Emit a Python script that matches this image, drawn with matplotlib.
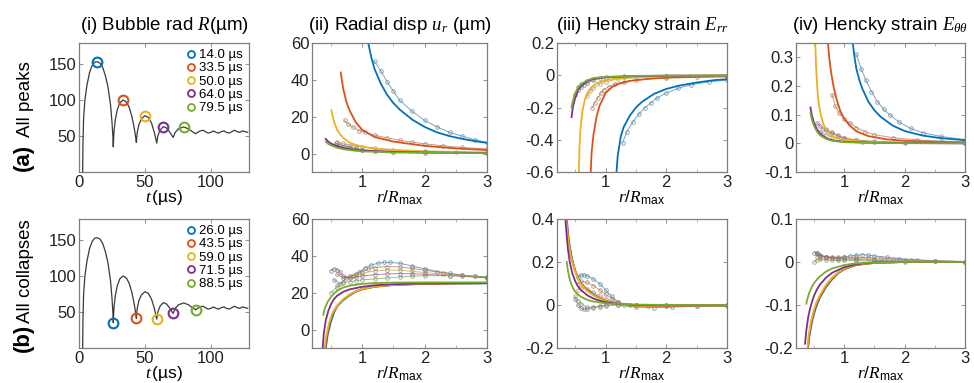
import matplotlib
matplotlib.use('Agg')
import matplotlib.pyplot as plt
from matplotlib.colors import to_rgb
from matplotlib.lines import Line2D

plt.rcParams['font.family'] = ['Liberation Sans', 'DejaVu Sans']
plt.rcParams['mathtext.fontset'] = 'custom'
plt.rcParams['mathtext.it'] = 'Liberation Serif:italic'
plt.rcParams['mathtext.rm'] = 'Liberation Sans'
plt.rcParams['mathtext.bf'] = 'Liberation Sans:bold'
plt.rcParams['axes.unicode_minus'] = False

colors = ['#0072BD', '#D95319', '#EDB120', '#7E2F8E', '#77AC30']

# ---------------- Bubble radius R(t) ----------------
t_us = [2.8, 3.0, 3.5, 4.5, 6, 8, 10, 12, 14, 16, 18, 20, 22, 24, 25, 25.7, 26,
        26.5, 27.5, 29, 31, 33.5, 36, 38, 40, 42, 43, 43.5,
        44.2, 45.5, 47.5, 50, 52.5, 55, 57, 58.3, 59,
        59.8, 61.5, 64, 66.5, 69, 70.7, 71.5,
        73, 75.5, 79.5, 83, 86, 88.5,
        90, 92, 94, 96, 98, 100, 102, 104, 106, 108, 110, 112, 114, 116, 118,
        120, 122, 124, 126, 128]
R_um = [0, 40, 75, 100, 120, 138, 148, 152.5, 153, 151, 145, 134, 118, 92, 70, 50, 35,
        55, 72, 86, 96, 100, 97, 90, 78, 60, 48, 41,
        55, 66, 74, 78, 76, 68, 56, 46, 40,
        50, 58, 63, 61, 55, 50, 48,
        55, 60, 62.5, 60, 56, 53,
        55, 57, 58, 56, 54, 55, 57, 55, 54, 56, 57, 55, 54, 56, 58,
        56, 55, 57, 56, 55]
peak_t = [14.0, 33.5, 50.0, 64.0, 79.5]
peak_R = [153, 100, 78, 63, 62.5]
peak_labels = ['14.0 µs', '33.5 µs', '50.0 µs', '64.0 µs', '79.5 µs']
collapse_t = [26.0, 43.5, 59.0, 71.5, 88.5]
collapse_R = [35, 41, 40, 48, 53]
collapse_labels = ['26.0 µs', '43.5 µs', '59.0 µs', '71.5 µs', '88.5 µs']

# ---------------- (a) peaks: radial displacement ----------------
ur_a_mx = [[1.1, 1.15, 1.2, 1.3, 1.4, 1.5, 1.6, 1.8, 2.0, 2.2, 2.4, 2.6, 2.8, 3.0],
           [0.66, 0.7, 0.75, 0.8, 0.9, 1.0, 1.2, 1.5, 2.0, 2.5, 3.0],
           [0.51, 0.55, 0.6, 0.65, 0.7, 0.8, 0.9, 1.0, 1.2, 1.5, 2.0, 2.5, 3.0],
           [0.42, 0.45, 0.5, 0.6, 0.7, 0.8, 1.0, 1.5, 2.0, 3.0],
           [0.42, 0.45, 0.5, 0.6, 0.7, 0.8, 1.0, 1.5, 2.0, 3.0]]
ur_a_my = [[60, 52, 46, 38, 32, 27.5, 24, 18.5, 14.5, 11.5, 9.5, 8, 6.8, 5.8],
           [44, 35, 28, 23.5, 17, 13, 9, 6.5, 4.2, 2.8, 1.9],
           [23.5, 17.5, 13, 10.5, 8.5, 6, 4.7, 3.8, 2.7, 1.8, 1.0, 0.7, 0.5],
           [8.0, 6.8, 5.5, 4.0, 3.0, 2.4, 1.6, 0.9, 0.6, 0.3],
           [6.5, 5.5, 4.5, 3.2, 2.4, 1.9, 1.2, 0.6, 0.4, 0.2]]
ur_a_dx = [[1.2, 1.3, 1.4, 1.5, 1.6, 1.8, 2.0, 2.2, 2.4, 2.6, 2.8, 3.0],
           [0.72, 0.78, 0.85, 0.95, 1.05, 1.2, 1.4, 1.6, 1.8, 2.0, 2.3, 2.6, 3.0],
           [0.6, 0.7, 0.8, 0.9, 1.0, 1.2, 1.5, 2.0, 2.5, 3.0],
           [0.58, 0.65, 0.72, 0.8, 0.9, 1.0, 1.2, 1.5, 2.0, 3.0],
           [0.6, 0.7, 0.8, 0.9, 1.0, 1.2, 1.5, 2.0, 3.0]]
ur_a_dy = [[50, 45, 39, 34, 29, 23, 18, 14.5, 11.5, 9.5, 7.5, 6],
           [18, 16, 14.5, 12.5, 11.5, 10, 8.5, 7.2, 6.2, 5.3, 4.2, 3.3, 2.5],
           [6.5, 5.5, 4.8, 4.2, 3.6, 2.9, 2.2, 1.5, 1.1, 0.8],
           [5.5, 4.8, 4.2, 3.5, 2.8, 2.2, 1.6, 1.1, 0.7, 0.4],
           [4.5, 3.8, 3.0, 2.4, 1.9, 1.3, 0.9, 0.5, 0.3]]

# ---------------- (a) peaks: E_rr ----------------
err_a_mx = [[1.18, 1.2, 1.25, 1.3, 1.4, 1.5, 1.6, 1.8, 2.0, 2.2, 2.5, 2.8, 3.0],
            [0.755, 0.77, 0.8, 0.85, 0.9, 1.0, 1.1, 1.2, 1.4, 1.7, 2.0, 2.5, 3.0],
            [0.56, 0.57, 0.59, 0.62, 0.66, 0.7, 0.75, 0.85, 1.0, 1.3, 1.7, 2.2, 3.0],
            [0.44, 0.46, 0.5, 0.55, 0.6, 0.7, 0.8, 1.0, 1.5, 2.0, 3.0],
            [0.44, 0.46, 0.5, 0.55, 0.6, 0.7, 0.8, 1.0, 1.5, 2.0, 3.0]]
err_a_my = [[-0.6, -0.5, -0.38, -0.32, -0.25, -0.2, -0.165, -0.115, -0.085, -0.065, -0.045, -0.03, -0.025],
            [-0.6, -0.48, -0.37, -0.26, -0.19, -0.11, -0.075, -0.055, -0.035, -0.022, -0.015, -0.01, -0.007],
            [-0.6, -0.45, -0.32, -0.22, -0.15, -0.11, -0.08, -0.05, -0.03, -0.015, -0.008, -0.005, -0.003],
            [-0.26, -0.2, -0.14, -0.09, -0.065, -0.035, -0.022, -0.012, -0.005, -0.003, -0.001],
            [-0.2, -0.16, -0.11, -0.075, -0.055, -0.03, -0.018, -0.01, -0.004, -0.002, -0.001]]
err_a_dx = [[1.28, 1.35, 1.45, 1.55, 1.65, 1.75, 1.85, 2.0, 2.2, 2.4, 2.7, 3.0],
            [0.78, 0.82, 0.87, 0.92, 0.97, 1.05, 1.15, 1.3, 1.5, 2.0, 2.5, 3.0],
            [0.7, 0.75, 0.8, 0.9, 1.0, 1.2, 1.5, 2.0, 3.0],
            [0.5, 0.55, 0.6, 0.65, 0.7, 0.8, 0.9, 1.0, 1.3, 2.0, 3.0],
            [0.55, 0.6, 0.7, 0.8, 1.0, 1.3, 2.0, 3.0]]
err_a_dy = [[-0.42, -0.35, -0.29, -0.24, -0.2, -0.17, -0.14, -0.11, -0.08, -0.06, -0.04, -0.03],
            [-0.2, -0.17, -0.14, -0.11, -0.09, -0.07, -0.055, -0.04, -0.03, -0.015, -0.01, -0.008],
            [-0.13, -0.1, -0.08, -0.055, -0.04, -0.025, -0.015, -0.008, -0.004],
            [-0.12, -0.09, -0.075, -0.06, -0.045, -0.03, -0.02, -0.015, -0.01, -0.005, -0.003],
            [-0.07, -0.055, -0.035, -0.025, -0.013, -0.007, -0.003, -0.002]]

# ---------------- (a) peaks: E_thetatheta ----------------
ett_a_mx = [[1.14, 1.17, 1.2, 1.25, 1.3, 1.4, 1.5, 1.6, 1.8, 2.0, 2.3, 2.6, 3.0],
            [0.73, 0.75, 0.78, 0.82, 0.87, 0.93, 1.0, 1.1, 1.2, 1.4, 1.7, 2.0, 2.5, 3.0],
            [0.52, 0.53, 0.55, 0.57, 0.6, 0.65, 0.7, 0.8, 0.9, 1.0, 1.3, 1.7, 2.2, 3.0],
            [0.44, 0.46, 0.5, 0.55, 0.6, 0.7, 0.8, 1.0, 1.5, 2.0, 3.0],
            [0.44, 0.46, 0.5, 0.55, 0.6, 0.7, 0.8, 1.0, 1.5, 2.0, 3.0]]
ett_a_my = [[0.35, 0.3, 0.26, 0.22, 0.19, 0.145, 0.115, 0.093, 0.062, 0.043, 0.027, 0.018, 0.011],
            [0.35, 0.3, 0.25, 0.2, 0.155, 0.115, 0.085, 0.06, 0.042, 0.025, 0.014, 0.009, 0.005, 0.003],
            [0.35, 0.28, 0.2, 0.15, 0.11, 0.07, 0.045, 0.025, 0.016, 0.012, 0.006, 0.003, 0.002, 0.001],
            [0.125, 0.1, 0.07, 0.048, 0.034, 0.018, 0.011, 0.005, 0.002, 0.001, 0.0],
            [0.105, 0.085, 0.06, 0.04, 0.028, 0.015, 0.009, 0.004, 0.0015, 0.0005, 0.0]]
ett_a_dx = [[1.2, 1.28, 1.36, 1.45, 1.55, 1.65, 1.75, 1.9, 2.1, 2.3, 2.6, 3.0],
            [0.8, 0.85, 0.92, 1.0, 1.1, 1.2, 1.35, 1.5, 1.8, 2.2, 2.6, 3.0],
            [0.7, 0.8, 0.9, 1.0, 1.2, 1.5, 2.0, 3.0],
            [0.55, 0.6, 0.65, 0.7, 0.8, 0.9, 1.0, 1.2, 1.5, 2.0, 3.0],
            [0.6, 0.7, 0.8, 1.0, 1.3, 2.0, 3.0]]
ett_a_dy = [[0.31, 0.26, 0.22, 0.18, 0.145, 0.12, 0.1, 0.075, 0.052, 0.037, 0.024, 0.013],
            [0.17, 0.13, 0.105, 0.085, 0.07, 0.055, 0.04, 0.03, 0.02, 0.012, 0.008, 0.005],
            [0.05, 0.038, 0.028, 0.02, 0.012, 0.007, 0.003, 0.001],
            [0.07, 0.06, 0.05, 0.045, 0.035, 0.025, 0.018, 0.01, 0.006, 0.003, 0.001],
            [0.04, 0.03, 0.022, 0.012, 0.006, 0.002, 0.001]]

# ---------------- (b) collapses: radial displacement ----------------
ur_b_mx = [[0.42, 0.45, 0.5, 0.55, 0.6, 0.7, 0.8, 0.9, 1.0, 1.2, 1.5, 2.0, 2.5, 3.0],
           [0.41, 0.44, 0.48, 0.53, 0.6, 0.7, 0.8, 0.9, 1.0, 1.2, 1.5, 2.0, 2.5, 3.0],
           [0.4, 0.43, 0.47, 0.52, 0.6, 0.7, 0.8, 0.9, 1.0, 1.2, 1.5, 2.0, 2.5, 3.0],
           [0.37, 0.39, 0.42, 0.46, 0.5, 0.55, 0.6, 0.7, 0.8, 1.0, 1.2, 1.5, 2.0, 3.0],
           [0.38, 0.4, 0.45, 0.5, 0.55, 0.6, 0.7, 0.8, 1.0, 1.2, 1.5, 2.0, 3.0]]
ur_b_my = [[-10, -3, 4, 9, 12.5, 16, 18.5, 20.5, 21.8, 23.2, 24.2, 24.8, 25, 25.1],
           [-10, -3, 3.5, 8.8, 12.8, 16.3, 18.8, 20.7, 22, 23.3, 24.3, 24.9, 25.1, 25.2],
           [-10, -3, 3, 8.5, 13, 16.5, 19, 20.8, 22, 23.3, 24.3, 24.9, 25.1, 25.2],
           [-10, -2, 5, 10, 13.5, 16.5, 18.3, 20.5, 21.8, 23.2, 24, 24.6, 25, 25.2],
           [8, 11, 15, 17.5, 19.5, 21, 22.8, 23.8, 24.8, 25.2, 25.5, 25.6, 25.6]]
ur_b_dx = [[0.55, 0.65, 0.75, 0.85, 0.95, 1.05, 1.15, 1.25, 1.35, 1.45, 1.6, 1.8, 2.0, 2.2, 2.4, 2.6, 2.8, 3.0],
           [0.6, 0.7, 0.8, 0.9, 1.0, 1.1, 1.2, 1.4, 1.6, 1.8, 2.0, 2.3, 2.6, 3.0],
           [0.6, 0.7, 0.8, 0.9, 1.0, 1.2, 1.4, 1.6, 1.8, 2.0, 2.3, 2.6, 3.0],
           [0.5, 0.55, 0.6, 0.65, 0.7, 0.8, 0.9, 1.0, 1.2, 1.4, 1.6, 1.8, 2.0, 2.4, 3.0],
           [0.5, 0.6, 0.7, 0.8, 0.9, 1.0, 1.2, 1.4, 1.6, 1.8, 2.0, 2.4, 2.8, 3.0]]
ur_b_dy = [[27, 25, 28, 29, 31, 33.5, 35, 36, 36.5, 36.5, 36, 34.5, 33, 31.5, 30.5, 29.5, 28.8, 28],
           [30, 28, 29, 30, 31.5, 32.8, 33.6, 34.2, 34, 33.2, 32.2, 30.8, 29.5, 28.3],
           [24, 26, 28.5, 29.5, 30.5, 31.8, 32.3, 32.2, 31.6, 31, 30, 29.2, 28.3],
           [32, 33, 32.5, 31, 29, 28, 28.5, 29, 29.8, 30.2, 30.4, 30.3, 30, 29.2, 28.2],
           [20, 23, 25.5, 26, 26.5, 27, 27.5, 28, 28.5, 29, 29.2, 29.3, 29, 28.7]]

# ---------------- (b) collapses: E_rr ----------------
err_b_mx = [[0.36, 0.38, 0.4, 0.43, 0.46, 0.5, 0.55, 0.6, 0.7, 0.8, 0.9, 1.0, 1.1, 1.2, 1.3, 1.5, 2.0, 2.5, 3.0],
            [0.355, 0.375, 0.395, 0.425, 0.455, 0.5, 0.55, 0.6, 0.7, 0.8, 0.9, 1.0, 1.1, 1.2, 1.3, 1.5, 2.0, 2.5, 3.0],
            [0.35, 0.37, 0.39, 0.42, 0.45, 0.5, 0.55, 0.6, 0.7, 0.8, 0.9, 1.0, 1.1, 1.2, 1.3, 1.5, 2.0, 2.5, 3.0],
            [0.34, 0.36, 0.38, 0.41, 0.45, 0.5, 0.55, 0.6, 0.7, 0.8, 0.9, 1.0, 1.2, 1.5, 2.0, 3.0],
            [0.36, 0.38, 0.4, 0.43, 0.47, 0.5, 0.55, 0.6, 0.7, 0.8, 1.0, 1.5, 2.0, 3.0]]
err_b_my = [[0.4, 0.34, 0.29, 0.24, 0.2, 0.16, 0.125, 0.1, 0.07, 0.05, 0.033, 0.02, 0.012, 0.006, 0.0, -0.005, -0.005, -0.003, -0.002],
            [0.4, 0.34, 0.29, 0.24, 0.2, 0.158, 0.122, 0.097, 0.067, 0.047, 0.031, 0.019, 0.011, 0.005, 0.0, -0.004, -0.004, -0.003, -0.002],
            [0.4, 0.34, 0.29, 0.24, 0.2, 0.155, 0.12, 0.095, 0.065, 0.045, 0.03, 0.018, 0.01, 0.005, 0.0, -0.004, -0.004, -0.003, -0.002],
            [0.39, 0.32, 0.26, 0.2, 0.15, 0.11, 0.085, 0.068, 0.045, 0.03, 0.02, 0.013, 0.005, 0.0, -0.002, -0.001],
            [0.2, 0.16, 0.13, 0.1, 0.075, 0.062, 0.048, 0.037, 0.024, 0.016, 0.008, 0.002, 0.0, 0.0]]
err_b_dx = [[0.55, 0.6, 0.65, 0.7, 0.8, 0.9, 1.0, 1.1, 1.2, 1.3, 1.5, 1.8, 2.1, 2.5, 3.0],
            [0.55, 0.6, 0.7, 0.8, 0.9, 1.0, 1.1, 1.2, 1.4, 1.7, 2.0, 2.5, 3.0],
            [0.55, 0.6, 0.7, 0.8, 0.9, 1.0, 1.2, 1.5, 2.0, 3.0],
            [0.5, 0.55, 0.6, 0.65, 0.7, 0.8, 0.9, 1.0, 1.2, 1.5, 2.0, 3.0],
            [0.5, 0.55, 0.6, 0.7, 0.8, 0.9, 1.0, 1.2, 1.5, 2.0, 3.0]]
err_b_dy = [[0.13, 0.14, 0.14, 0.135, 0.12, 0.1, 0.07, 0.04, 0.015, 0.0, -0.01, -0.012, -0.01, -0.006, -0.004],
            [0.1, 0.11, 0.105, 0.09, 0.07, 0.05, 0.03, 0.012, 0.0, -0.005, -0.005, -0.003, -0.002],
            [0.07, 0.08, 0.075, 0.06, 0.045, 0.03, 0.01, 0.0, -0.003, -0.002],
            [0.03, 0.0, -0.015, -0.02, -0.018, -0.01, -0.005, 0.0, 0.002, 0.0, -0.001, 0.0],
            [0.04, 0.02, 0.005, -0.01, -0.012, -0.008, -0.004, 0.0, 0.0, 0.0, 0.0]]

# ---------------- (b) collapses: E_thetatheta ----------------
ett_b_mx = [[0.4, 0.42, 0.45, 0.48, 0.52, 0.56, 0.6, 0.65, 0.7, 0.8, 0.9, 1.0, 1.2, 1.5, 2.0, 3.0],
            [0.395, 0.415, 0.445, 0.475, 0.515, 0.555, 0.6, 0.65, 0.7, 0.8, 0.9, 1.0, 1.2, 1.5, 2.0, 3.0],
            [0.39, 0.41, 0.44, 0.47, 0.51, 0.55, 0.6, 0.65, 0.7, 0.8, 0.9, 1.0, 1.2, 1.5, 2.0, 3.0],
            [0.35, 0.37, 0.4, 0.43, 0.47, 0.5, 0.55, 0.6, 0.7, 0.8, 1.0, 1.2, 1.5, 2.0, 3.0],
            [0.37, 0.4, 0.43, 0.47, 0.5, 0.55, 0.6, 0.7, 0.8, 1.0, 1.2, 1.5, 2.0, 3.0]]
ett_b_my = [[-0.2, -0.175, -0.15, -0.13, -0.11, -0.095, -0.082, -0.07, -0.058, -0.04, -0.026, -0.017, -0.007, -0.002, 0.0, 0.0],
            [-0.2, -0.172, -0.147, -0.127, -0.107, -0.092, -0.079, -0.067, -0.055, -0.038, -0.025, -0.016, -0.0065, -0.002, 0.0, 0.0],
            [-0.2, -0.17, -0.145, -0.125, -0.105, -0.09, -0.076, -0.064, -0.053, -0.036, -0.024, -0.015, -0.006, -0.002, 0.0, 0.0],
            [-0.19, -0.16, -0.13, -0.11, -0.09, -0.078, -0.063, -0.052, -0.036, -0.025, -0.012, -0.005, -0.001, 0.0, 0.0],
            [-0.097, -0.08, -0.068, -0.056, -0.049, -0.04, -0.033, -0.022, -0.015, -0.007, -0.003, -0.001, 0.0, 0.0]]
ett_b_dx = [[0.55, 0.6, 0.7, 0.8, 0.9, 1.0, 1.1, 1.2, 1.3, 1.4, 1.5, 1.7, 1.9, 2.2, 2.5, 3.0],
            [0.55, 0.6, 0.7, 0.8, 0.9, 1.0, 1.2, 1.4, 1.6, 1.8, 2.1, 2.5, 3.0],
            [0.55, 0.6, 0.7, 0.8, 0.9, 1.0, 1.2, 1.5, 2.0, 2.5, 3.0],
            [0.5, 0.55, 0.6, 0.7, 0.8, 0.9, 1.0, 1.2, 1.5, 2.0, 3.0],
            [0.5, 0.55, 0.6, 0.7, 0.8, 0.9, 1.0, 1.2, 1.5, 2.0, 3.0]]
ett_b_dy = [[0.02, 0.015, 0.012, 0.01, 0.01, 0.012, 0.014, 0.016, 0.017, 0.016, 0.014, 0.011, 0.008, 0.005, 0.003, 0.001],
            [0.018, 0.014, 0.012, 0.011, 0.011, 0.011, 0.011, 0.01, 0.009, 0.007, 0.005, 0.003, 0.001],
            [0.012, 0.01, 0.009, 0.009, 0.009, 0.009, 0.008, 0.007, 0.004, 0.002, 0.001],
            [0.022, 0.02, 0.016, 0.012, 0.01, 0.008, 0.007, 0.006, 0.004, 0.002, 0.001],
            [0.0, 0.005, 0.006, 0.005, 0.004, 0.004, 0.004, 0.003, 0.002, 0.001, 0.0]]

# ---------------- figure ----------------
fig = plt.figure(figsize=(9.74, 3.83), dpi=100)
W, H = 974.0, 383.0
cols_px = [(79, 249), (312, 487), (557, 727), (796, 965)]
rows_px = [(43, 172), (219, 348)]
TICK_FS = 12
TITLE_FS = 13.5
XLAB_FS = 12.5

def make_ax(ci, ri):
    x0, x1 = cols_px[ci]
    y0, y1 = rows_px[ri]
    ax = fig.add_axes([x0 / W, 1 - y1 / H, (x1 - x0) / W, (y1 - y0) / H])
    for s in ax.spines.values():
        s.set_color('#7f7f7f')
        s.set_linewidth(0.9)
    ax.tick_params(direction='in', length=3, width=0.6, color='#7f7f7f',
                   top=True, right=True, labelsize=TICK_FS, pad=2, labelcolor='#222222')
    ax.tick_params(which='minor', direction='in', length=2, width=0.5, color='#9a9a9a',
                   top=True, right=True)
    return ax

gray = to_rgb('#8a8a8a')
def data_col(c, f=0.35):
    c = to_rgb(c)
    return tuple(f * c[i] + (1 - f) * gray[i] for i in range(3))

tick_fmt = lambda v: ('%g' % v)

def strain_panel(ax, mx, my, dx, dy, ylim, yticks):
    for i in range(5):
        dc = data_col(colors[i])
        ax.plot(dx[i], dy[i], '-', color=data_col(colors[i], 0.5), lw=0.7, alpha=0.7)
        ax.plot(dx[i], dy[i], 'o', ms=2.6, mfc='none', mec=dc, mew=0.6, alpha=0.8)
    for i in range(5):
        ax.plot(mx[i], my[i], '-', color=colors[i], lw=1.3)
    ax.set_xlim(0.2, 3)
    ax.set_ylim(*ylim)
    ax.set_xticks([1, 2, 3])
    ax.set_xticks([0.5, 1.5, 2.5], minor=True)
    ax.set_yticks(yticks)
    ax.set_yticklabels([tick_fmt(v) for v in yticks])
    ax.set_xlabel(r'$r/R_{\mathrm{max}}$', fontsize=XLAB_FS, labelpad=-1)

# column 1
for ri, (mt, mR, labs) in enumerate([(peak_t, peak_R, peak_labels),
                                     (collapse_t, collapse_R, collapse_labels)]):
    ax = make_ax(0, ri)
    ax.plot(t_us, R_um, '-', color='#3a3a3a', lw=0.9)
    handles = []
    for i in range(5):
        ax.plot(mt[i], mR[i], 'o', ms=7, mfc='none', mec=colors[i], mew=1.5)
        handles.append(Line2D([], [], marker='o', ls='none', ms=5, mfc='none',
                              mec=colors[i], mew=1.3))
    ax.legend(handles, labs, loc='upper right', frameon=False, fontsize=9.5,
              handletextpad=0.1, labelspacing=0.08, borderaxespad=0.35,
              handlelength=1.0, borderpad=0.1)
    ax.set_xlim(0, 129)
    ax.set_ylim(0, 179)
    ax.set_xticks([0, 50, 100])
    ax.set_yticks([50, 100, 150])
    ax.set_xlabel(r'$t\,$(µs)', fontsize=XLAB_FS, labelpad=-1)
    if ri == 0:
        ax.set_title(r'(i) Bubble rad $R$(µm)', fontsize=TITLE_FS, pad=9)

# column 2
ax = make_ax(1, 0)
strain_panel(ax, ur_a_mx, ur_a_my, ur_a_dx, ur_a_dy, (-10, 60), [0, 20, 40, 60])
ax.set_title(r'(ii) Radial disp $u_r$ (µm)', fontsize=TITLE_FS, pad=9)
ax = make_ax(1, 1)
strain_panel(ax, ur_b_mx, ur_b_my, ur_b_dx, ur_b_dy, (-10, 60), [0, 20, 40, 60])

# column 3
ax = make_ax(2, 0)
strain_panel(ax, err_a_mx, err_a_my, err_a_dx, err_a_dy, (-0.6, 0.2), [-0.6, -0.4, -0.2, 0, 0.2])
ax.set_title(r'(iii) Hencky strain $E_{rr}$', fontsize=TITLE_FS, pad=9)
ax = make_ax(2, 1)
strain_panel(ax, err_b_mx, err_b_my, err_b_dx, err_b_dy, (-0.2, 0.4), [-0.2, 0, 0.2, 0.4])

# column 4
ax = make_ax(3, 0)
strain_panel(ax, ett_a_mx, ett_a_my, ett_a_dx, ett_a_dy, (-0.1, 0.35), [-0.1, 0, 0.1, 0.2, 0.3])
ax.set_title(r'(iv) Hencky strain $E_{\theta\theta}$', fontsize=TITLE_FS, pad=9)
ax = make_ax(3, 1)
strain_panel(ax, ett_b_mx, ett_b_my, ett_b_dx, ett_b_dy, (-0.2, 0.1), [-0.2, -0.1, 0, 0.1])

# row labels
fig.text(23 / W, 1 - 157 / H, '(a)', rotation=90, fontsize=16, fontweight='bold',
         ha='center', va='center')
fig.text(26 / W, 1 - 99 / H, 'All peaks', rotation=90, fontsize=13.5,
         ha='center', va='center')
fig.text(23 / W, 1 - 338 / H, '(b)', rotation=90, fontsize=16, fontweight='bold',
         ha='center', va='center')
fig.text(26 / W, 1 - 271 / H, 'All collapses', rotation=90, fontsize=13.5,
         ha='center', va='center')

fig.savefig('out.png', dpi=100)
